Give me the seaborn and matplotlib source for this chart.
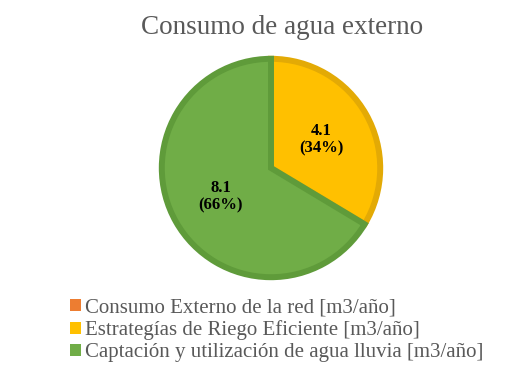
import matplotlib
matplotlib.use("Agg")
import matplotlib.pyplot as plt
import seaborn as sns
from matplotlib.patches import Patch

categories = ["Consumo Externo de la red [m3/año]",
              "Estrategías de Riego Eficiente [m3/año]",
              "Captación y utilización de agua lluvia [m3/año]"]
values = [0.0, 4.1, 8.1]
colors = ["#ED7D31", "#FFC000", "#70AD47"]
edge_colors = ["#D46A22", "#E3AA05", "#5F9B3A"]
title = "Consumo de agua externo"

sns.set_theme(style="white")
plt.rcParams['font.family'] = ['Liberation Serif', 'DejaVu Serif']

fig = plt.figure(figsize=(5.19, 3.77), dpi=100)
ax = fig.add_axes([(271 - 112) / 519, (209 - 112) / 377, 224 / 519, 224 / 377])

total = sum(values)

def fmt(pct):
    v = pct * total / 100
    return f"{v:.1f}\n({pct:.0f}%)"

wedges, texts, autotexts = ax.pie(values, colors=colors, startangle=90, counterclock=False,
                                  radius=0.975, autopct=lambda p: fmt(p) if p > 0 else "",
                                  pctdistance=0.53,
                                  wedgeprops=dict(linewidth=4.3),
                                  textprops=dict(fontsize=12, fontweight='bold', color='black',
                                                 linespacing=1.15))
for w, ec, v in zip(wedges, edge_colors, values):
    w.set_edgecolor(ec)
    if v == 0:
        w.set_linewidth(0)
ax.set_xlim(-1, 1)
ax.set_ylim(-1, 1)
ax.set_aspect('equal')
ax.axis('off')

fig.text(282 / 519, 1 - 27 / 377, title, ha='center', va='center', fontsize=19.5, color='#595959')

handles = [Patch(facecolor=c, edgecolor='none') for c in colors]
leg = fig.legend(handles, categories, loc='upper left', bbox_to_anchor=(70 / 519, 1 - 298 / 377),
                 frameon=False, fontsize=15, handlelength=0.53, handleheight=0.5,
                 handletextpad=0.2, labelspacing=0.15, borderpad=0, borderaxespad=0)
for t in leg.get_texts():
    t.set_color('#595959')

fig.savefig("out.png", dpi=100, facecolor='white')
